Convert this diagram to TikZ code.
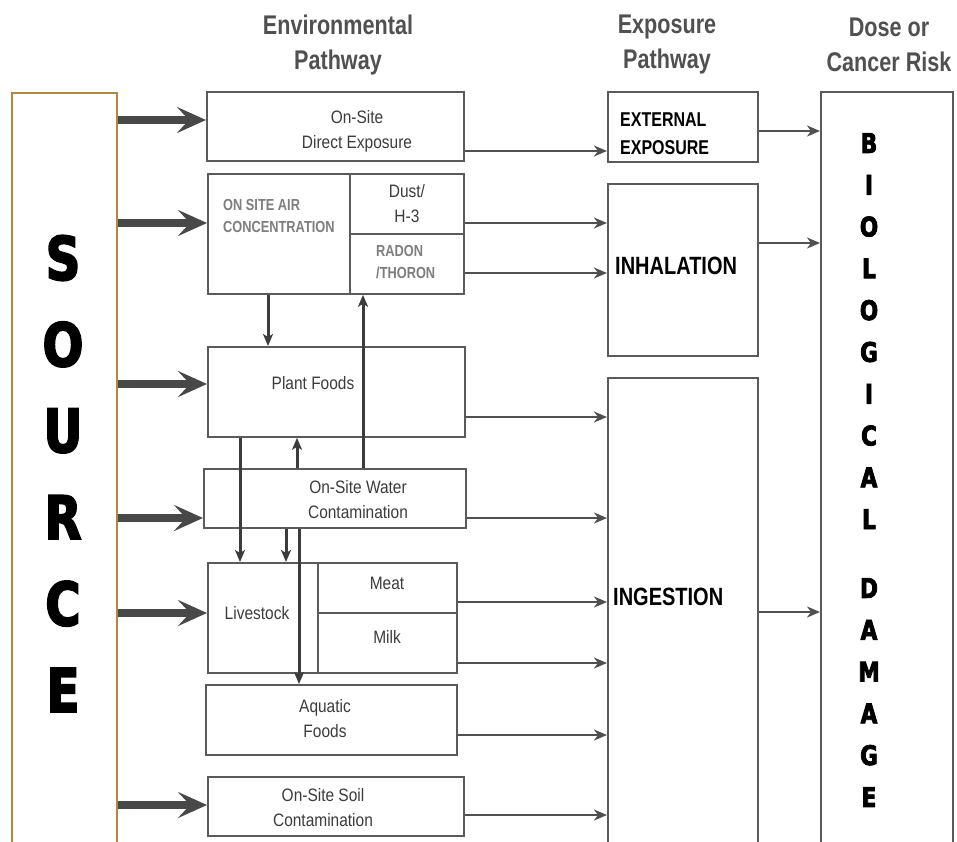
\documentclass[tikz,border=0pt]{standalone}
\usepackage{xcolor}
\usepackage{fontspec}
\usepackage{tikz}
\usetikzlibrary{arrows.meta}
\setmainfont{Liberation Sans}
\newfontfamily\narrowfont{Liberation Sans}[FakeStretch=0.86]
\newfontfamily\condfont{Liberation Sans}[FakeStretch=0.8]
\newfontfamily\heavyfont{DejaVu Sans}[FakeStretch=0.8, FakeBold=3]
\definecolor{boxgray}{HTML}{5A5A5A}
\definecolor{arrgray}{HTML}{505050}
\definecolor{txtgray}{HTML}{3C3C3C}
\definecolor{lightgray}{HTML}{7E7E7E}
\definecolor{srcedge}{HTML}{B08A3C}
\tikzstyle{envbox} = [draw=boxgray, line width=1.8pt, anchor=north west, inner sep=0pt]
\tikzstyle{srcbox} = [draw=srcedge, line width=1.6pt, anchor=north west, inner sep=0pt]
\tikzstyle{envtxt} = [text=txtgray, font=\narrowfont\fontsize{18}{25}\selectfont, align=center, inner sep=0pt]
\tikzstyle{airtxt} = [text=lightgray, font=\condfont\bfseries\fontsize{16}{22}\selectfont, align=left, anchor=west, inner sep=0pt]
\tikzstyle{exptxt} = [text=black, font=\condfont\bfseries\fontsize{20}{28}\selectfont, align=left, anchor=west, inner sep=0pt]
\tikzstyle{headtxt} = [text=txtgray!90!white, font=\condfont\bfseries\fontsize{27}{35}\selectfont, align=center, inner sep=0pt]
\tikzstyle{bigletter} = [font=\heavyfont\bfseries\fontsize{60}{60}\selectfont, inner sep=0pt]
\tikzstyle{bioletter} = [font=\heavyfont\bfseries\fontsize{27}{27}\selectfont, inner sep=0pt]
\tikzstyle{srcarr} = [draw=arrgray!90!black, line width=8pt, -{Stealth[length=29pt,width=26pt,inset=12pt]}]
\tikzstyle{thinarr} = [draw=arrgray, line width=2pt, -{Stealth[length=13pt,width=11pt,inset=4pt]}]
\tikzstyle{feedarr} = [draw=txtgray, line width=3pt, -{Stealth[length=12pt,width=10pt,inset=3pt]}]

\begin{document}
\begin{tikzpicture}[x=1pt,y=-1pt]
\clip (0,0) rectangle (957,841);
\fill[white] (0,0) rectangle (957,841);
% headings
\node[headtxt] (envhead) at (338,45) {Environmental\\Pathway};
\node[headtxt] (exphead) at (667,45) {Exposure\\Pathway};
\node[headtxt] (dosehead) at (889,45) {Dose or\\Cancer Risk};
% source
\node[srcbox, minimum width=105pt, minimum height=780pt] (source) at (11,92) {};
\foreach \ch [count=\i] in {S,O,U,R,C,E}
    \node[bigletter] (src\i) at (63,{258+86.4*(\i-1)}) {\ch};
% environmental pathway
\node[envbox, minimum width=257pt, minimum height=69pt] (direct) at (206,91) {};
\node[envtxt] (directtxt) at (357,131) {On-Site\\Direct Exposure};
\node[envbox, minimum width=256pt, minimum height=120pt] (air) at (207,173) {};
\node[envbox, minimum width=114pt, minimum height=60pt, envtxt] (dust) at (349,173) {Dust/\\H-3};
\node[envbox, minimum width=114pt, minimum height=60pt] (radon) at (349,233) {};
\node[airtxt] (airtxt) at (223,216) {ON SITE AIR\\CONCENTRATION};
\node[airtxt] (radontxt) at (376,262) {RADON\\/THORON};
\node[envbox, minimum width=257pt, minimum height=90pt] (plant) at (207,346) {};
\node[envtxt] (planttxt) at (313,383) {Plant Foods};
\node[envbox, minimum width=262pt, minimum height=59pt] (water) at (203,468) {};
\node[envtxt] (watertxt) at (358,500) {On-Site Water\\Contamination};
\node[envbox, minimum width=249pt, minimum height=110pt] (stock) at (207,562) {};
\node[envtxt] (stocktxt) at (257,613) {Livestock};
\node[envbox, minimum width=139pt, minimum height=50pt] (meat) at (317,562) {};
\node[envtxt] (meattxt) at (387,583) {Meat};
\node[envbox, minimum width=139pt, minimum height=60pt] (milk) at (317,612) {};
\node[envtxt] (milktxt) at (387,637) {Milk};
\node[envbox, minimum width=251pt, minimum height=70pt] (aquatic) at (205,684) {};
\node[envtxt] (aquatictxt) at (325,719) {Aquatic\\Foods};
\node[envbox, minimum width=256pt, minimum height=59pt] (soil) at (207,776) {};
\node[envtxt] (soiltxt) at (323,808) {On-Site Soil\\Contamination};
% exposure pathway
\node[envbox, minimum width=150pt, minimum height=70pt] (ext) at (607,91) {};
\node[exptxt] (exttxt) at (620,134) {EXTERNAL\\EXPOSURE};
\node[envbox, minimum width=150pt, minimum height=172pt] (inhal) at (607,183) {};
\node[exptxt, font=\condfont\bfseries\fontsize{25}{25}\selectfont] (inhaltxt) at (615,266) {INHALATION};
\node[envbox, minimum width=150pt, minimum height=500pt] (ingest) at (607,377) {};
\node[exptxt, font=\condfont\bfseries\fontsize{25}{25}\selectfont] (ingesttxt) at (613,597) {INGESTION};
% dose
\node[envbox, minimum width=132pt, minimum height=780pt] (bio) at (820,91) {};
\foreach \ch [count=\i] in {B,I,O,L,O,G,I,C,A,L}
    \node[bioletter] (bioa\i) at (869,{143+41.8*(\i-1)}) {\ch};
\foreach \ch [count=\i] in {D,A,M,A,G,E}
    \node[bioletter] (biob\i) at (869,{588+41.8*(\i-1)}) {\ch};
% source arrows
\draw[srcarr] (source.east |- 0,120) -- (direct.west |- 0,120);
\draw[srcarr] (source.east |- 0,223) -- (air.west |- 0,223);
\draw[srcarr] (source.east |- 0,384) -- (plant.west |- 0,384);
\draw[srcarr] (source.east |- 0,518) -- (water.west |- 0,518);
\draw[srcarr] (source.east |- 0,613) -- (stock.west |- 0,613);
\draw[srcarr] (source.east |- 0,805) -- (soil.west |- 0,805);
% between environmental boxes
\draw[feedarr] (air.south -| 268,0) -- (plant.north -| 268,0);
\draw[feedarr] (water.north -| 363,0) -- (radon.south -| 363,0);
\draw[feedarr] (water.north -| 297,0) -- (plant.south -| 297,0);
\draw[feedarr] (plant.south -| 240,0) -- (stock.north -| 240,0);
\draw[feedarr] (water.south -| 286,0) -- (stock.north -| 286,0);
\draw[feedarr] (water.south -| 299,0) -- (aquatic.north -| 299,0);
% to exposure pathway
\draw[thinarr] (direct.east |- 0,151) -- (ext.west |- 0,151);
\draw[thinarr] (dust.east |- 0,223) -- (inhal.west |- 0,223);
\draw[thinarr] (radon.east |- 0,273) -- (inhal.west |- 0,273);
\draw[thinarr] (plant.east |- 0,417) -- (ingest.west |- 0,417);
\draw[thinarr] (water.east |- 0,518) -- (ingest.west |- 0,518);
\draw[thinarr] (meat.east |- 0,602) -- (ingest.west |- 0,602);
\draw[thinarr] (milk.east |- 0,663) -- (ingest.west |- 0,663);
\draw[thinarr] (aquatic.east |- 0,735) -- (ingest.west |- 0,735);
\draw[thinarr] (soil.east |- 0,815) -- (ingest.west |- 0,815);
% to dose
\draw[thinarr] (ext.east |- 0,131) -- (bio.west |- 0,131);
\draw[thinarr] (inhal.east |- 0,243) -- (bio.west |- 0,243);
\draw[thinarr] (ingest.east |- 0,612) -- (bio.west |- 0,612);
\end{tikzpicture}
\end{document}
